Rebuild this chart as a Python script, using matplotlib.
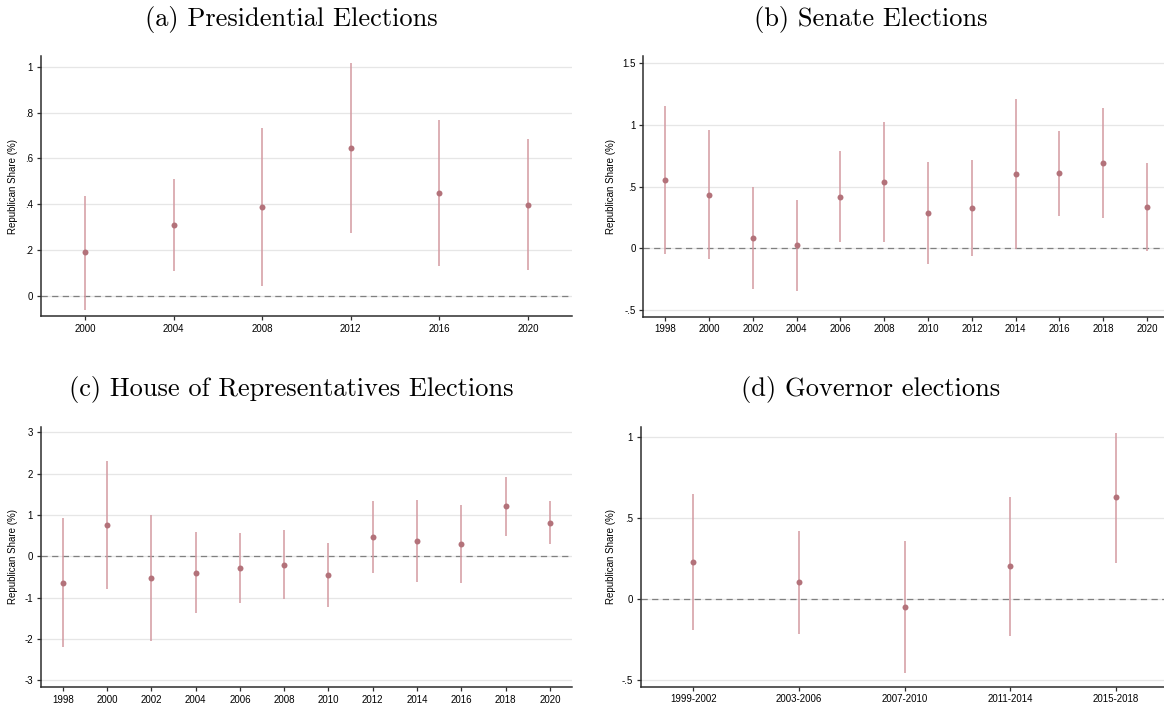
import matplotlib
matplotlib.use("Agg")
from matplotlib import pyplot as plt
from matplotlib.ticker import FuncFormatter

# Point estimates and 95% interval bounds by election type
pres_years = [2000, 2004, 2008, 2012, 2016, 2020]
pres_est = [0.189, 0.308, 0.388, 0.645, 0.449, 0.398]
pres_lo = [-0.061, 0.108, 0.041, 0.273, 0.131, 0.113]
pres_hi = [0.436, 0.509, 0.734, 1.017, 0.767, 0.685]

senate_years = [1998, 2000, 2002, 2004, 2006, 2008, 2010, 2012, 2014, 2016, 2018, 2020]
senate_est = [0.551, 0.435, 0.086, 0.027, 0.417, 0.535, 0.285, 0.328, 0.599, 0.608, 0.691, 0.339]
senate_lo = [-0.048, -0.081, -0.325, -0.341, 0.051, 0.054, -0.129, -0.059, -0.008, 0.261, 0.247, -0.019]
senate_hi = [1.148, 0.954, 0.500, 0.390, 0.785, 1.019, 0.699, 0.712, 1.210, 0.952, 1.132, 0.694]

house_years = [1998, 2000, 2002, 2004, 2006, 2008, 2010, 2012, 2014, 2016, 2018, 2020]
house_est = [-0.637, 0.750, -0.532, -0.395, -0.290, -0.200, -0.444, 0.460, 0.363, 0.290, 1.210, 0.815]
house_lo = [-2.200, -0.798, -2.056, -1.379, -1.137, -1.030, -1.218, -0.395, -0.629, -0.653, 0.500, 0.306]
house_hi = [0.927, 2.306, 1.000, 0.597, 0.565, 0.630, 0.331, 1.331, 1.363, 1.234, 1.927, 1.330]

gov_periods = ["1999-2002", "2003-2006", "2007-2010", "2011-2014", "2015-2018"]
gov_est = [0.230, 0.105, -0.045, 0.206, 0.630]
gov_lo = [-0.187, -0.214, -0.453, -0.224, 0.226]
gov_hi = [0.650, 0.424, 0.360, 0.634, 1.029]

W, H = 1164, 706
plt.rcParams['axes.unicode_minus'] = False
plt.rcParams['font.family'] = ['Liberation Sans', 'DejaVu Sans']

fig = plt.figure(figsize=(W / 100, H / 100), dpi=100)
fig.patch.set_facecolor('white')


def stata_fmt(v, pos):
    s = '%g' % round(v, 6)
    return s.replace('0.', '.') if abs(v) < 1 and v != 0 else s


def add_panel(left, top, right, bottom):
    return fig.add_axes([left / W, 1 - bottom / H, (right - left) / W, (bottom - top) / H])


def draw(ax, x, est, lo, hi, yticks, ylim, xlim, xticks, xlabels=None):
    ax.set_xlim(*xlim)
    ax.set_ylim(*ylim)
    ax.set_yticks(yticks)
    ax.yaxis.set_major_formatter(FuncFormatter(stata_fmt))
    ax.set_xticks(xticks)
    if xlabels is not None:
        ax.set_xticklabels(xlabels)
    ax.set_axisbelow(True)
    ax.grid(axis='y', color='#e6e6e6', linewidth=0.9)
    ax.axhline(0, color='#808080', linestyle=(0, (5, 3.5)), linewidth=0.9, zorder=2)
    ax.vlines(x, lo, hi, color='#d39aa1', linewidth=1.1, zorder=3)
    ax.plot(x, est, 'o', color='#b3727a', markersize=4.3, markeredgewidth=0, zorder=4)
    for side in ['top', 'right']:
        ax.spines[side].set_visible(False)
    for side in ['left', 'bottom']:
        ax.spines[side].set_color('#2e2e2e')
        ax.spines[side].set_linewidth(1.1)
    ax.tick_params(axis='both', labelsize=7, length=3, width=0.9, color='#2e2e2e', pad=2.5)
    ax.set_ylabel('Republican Share (%)', fontsize=7)


title_kw = dict(fontsize=19, fontfamily='cmr10', ha='center', va='baseline')

ax1 = add_panel(40.7, 56, 572.3, 316)
draw(ax1, pres_years, pres_est, pres_lo, pres_hi,
     [0, 0.2, 0.4, 0.6, 0.8, 1], (-0.089, 1.047), (1998, 2022), pres_years)
ax1.yaxis.set_label_coords(-0.043, 0.5)
fig.text(291 / W, 1 - 26 / H, '(a) Presidential Elections', **title_kw)

ax2 = add_panel(643.3, 56, 1169, 316.7)
draw(ax2, senate_years, senate_est, senate_lo, senate_hi,
     [-0.5, 0, 0.5, 1, 1.5], (-0.551, 1.555), (1997, 2021), senate_years)
ax2.yaxis.set_label_coords(-0.052, 0.5)
fig.text(871 / W, 1 - 26 / H, '(b) Senate Elections', **title_kw)

ax3 = add_panel(40.7, 426.7, 572, 687.3)
draw(ax3, house_years, house_est, house_lo, house_hi,
     [-3, -2, -1, 0, 1, 2, 3], (-3.17, 3.135), (1997, 2021), house_years)
ax3.yaxis.set_label_coords(-0.043, 0.5)
fig.text(291 / W, 1 - 396 / H, '(c) House of Representatives Elections', **title_kw)

ax4 = add_panel(640.7, 426.7, 1168.5, 686.7)
gov_x = list(range(1, len(gov_periods) + 1))
draw(ax4, gov_x, gov_est, gov_lo, gov_hi,
     [-0.5, 0, 0.5, 1], (-0.54, 1.066), (0.5, 5.5), gov_x, gov_periods)
ax4.yaxis.set_label_coords(-0.047, 0.5)
fig.text(871 / W, 1 - 396 / H, '(d) Governor elections', **title_kw)

fig.savefig('out.png', dpi=100, facecolor='white')
